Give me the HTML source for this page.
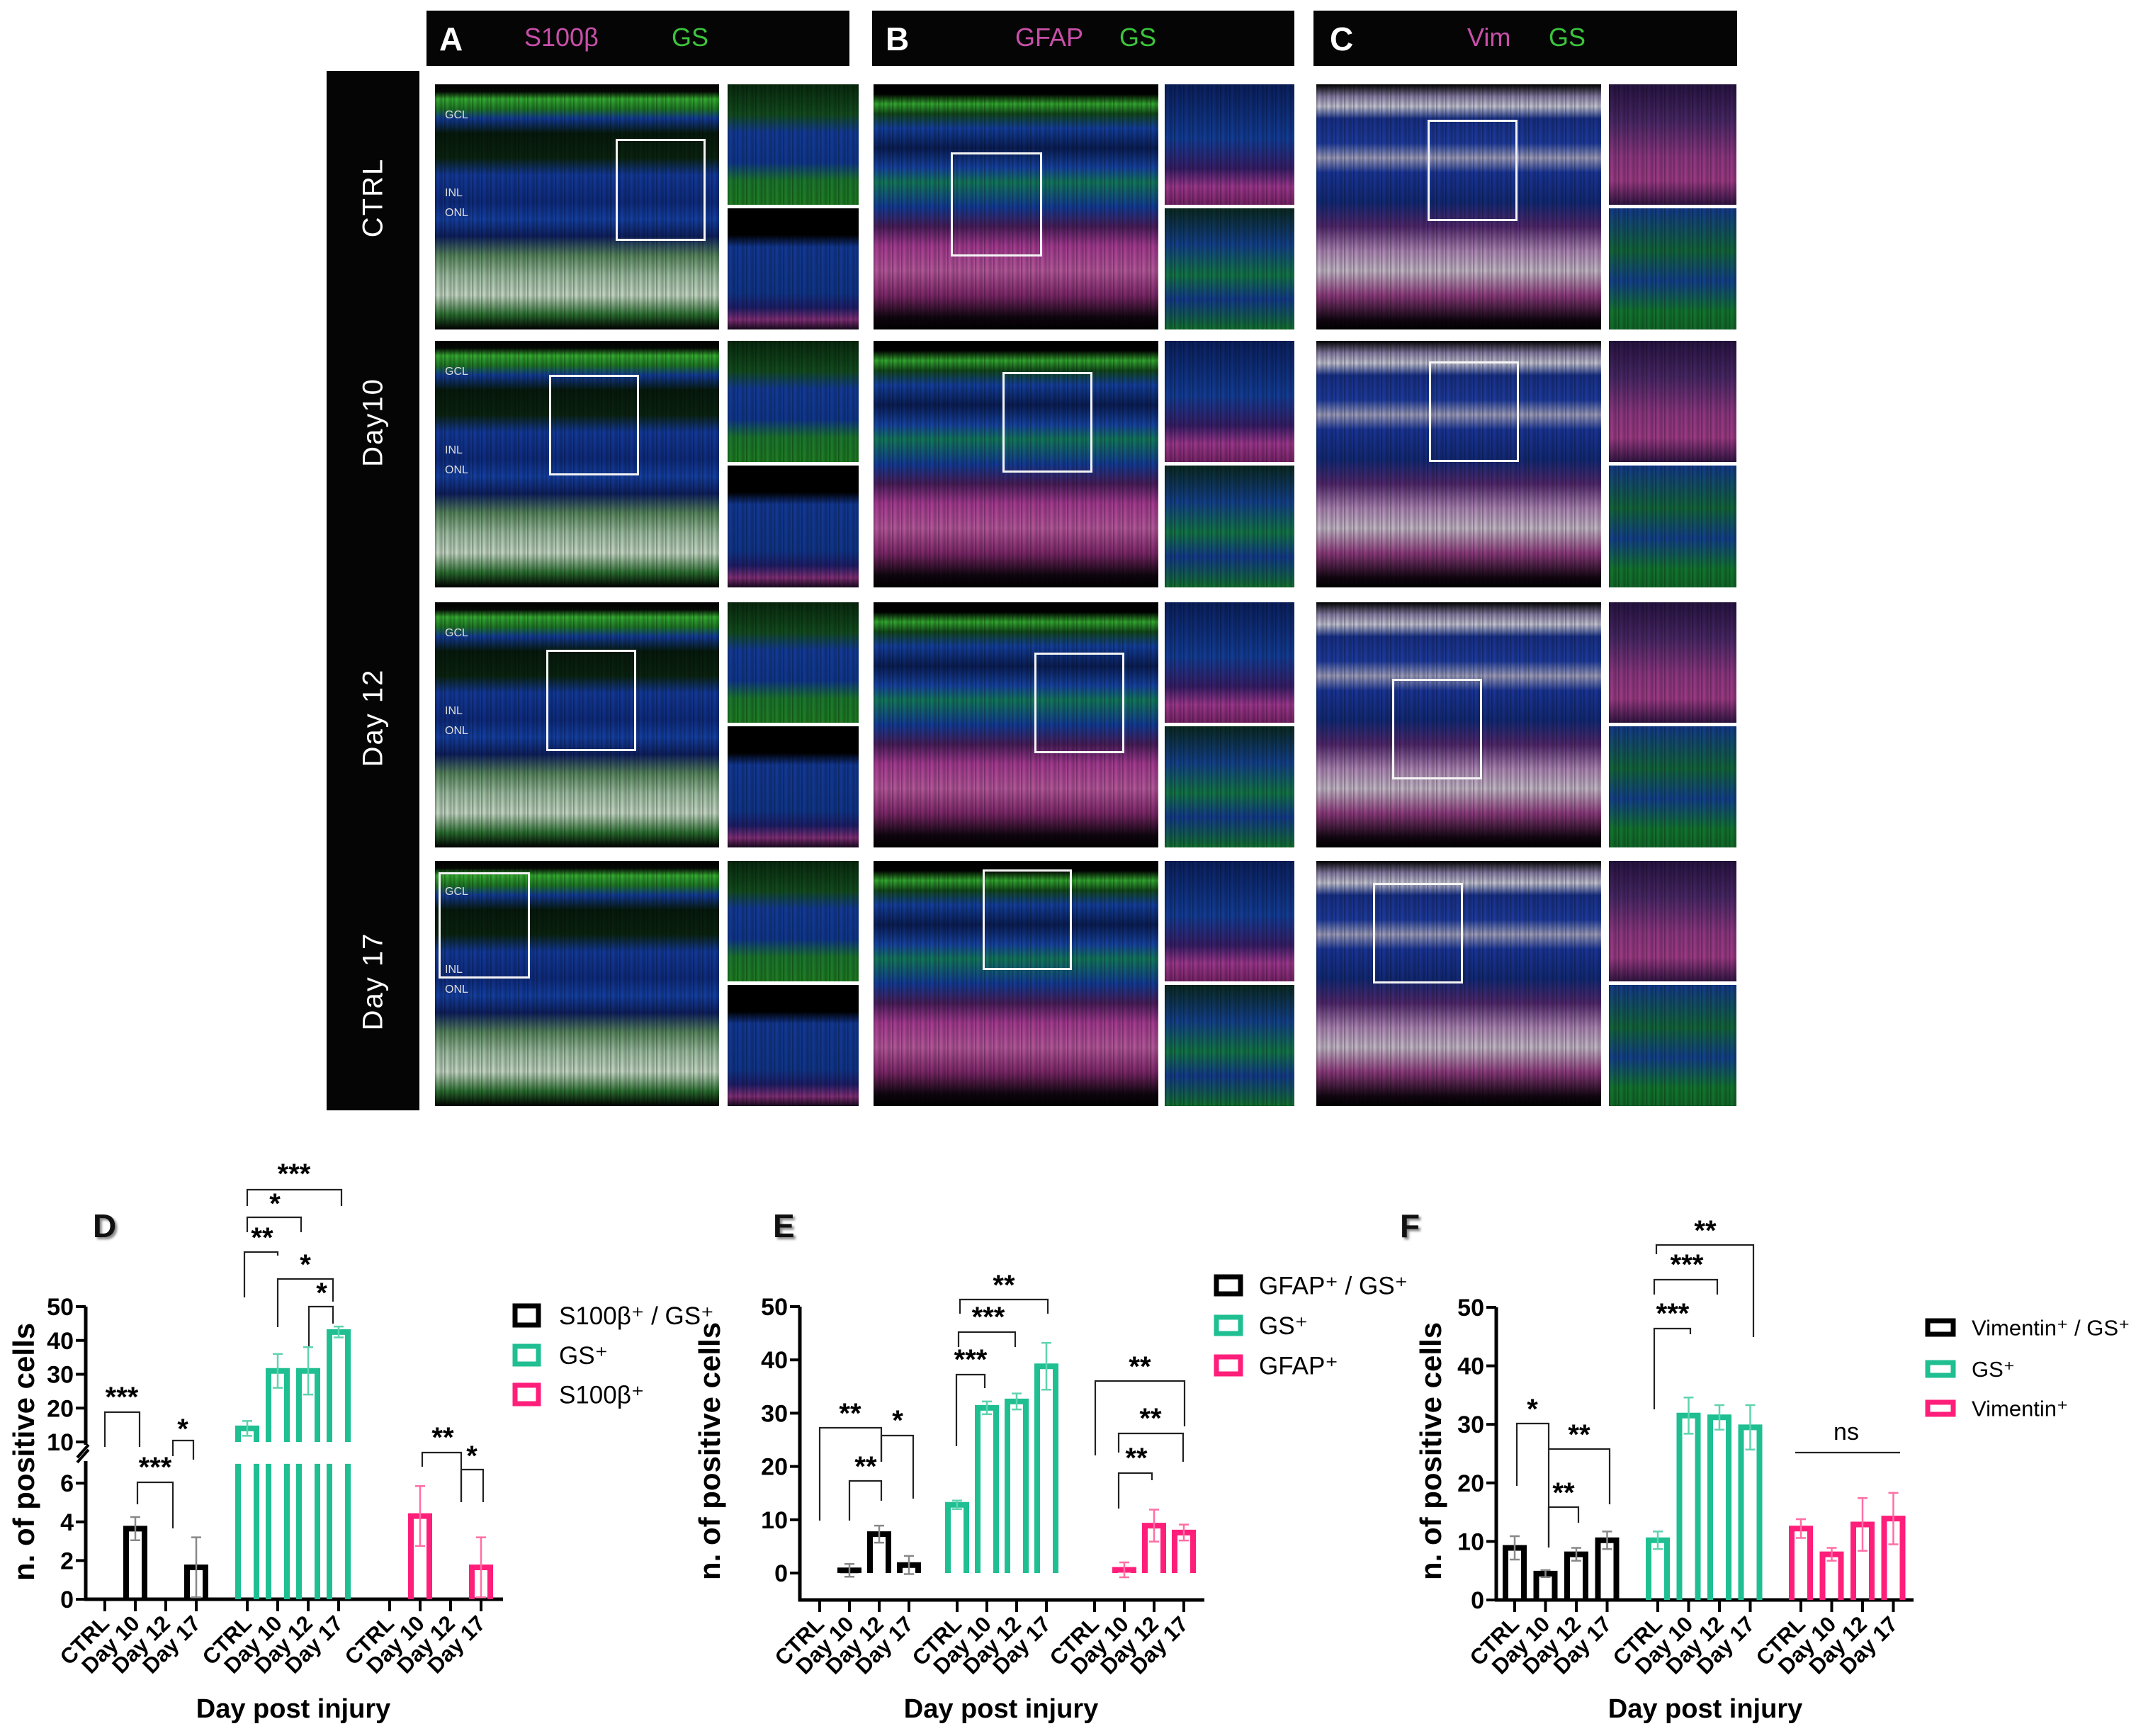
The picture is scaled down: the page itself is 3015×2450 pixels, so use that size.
<!DOCTYPE html>
<html><head><meta charset="utf-8">
<style>
html,body{margin:0;padding:0;background:#fff;}
#root{position:relative;width:3015px;height:2450px;overflow:hidden;background:#fff;font-family:"Liberation Sans",sans-serif;}
.blk{position:absolute;background:#050505;}
.hdr{position:absolute;color:#fff;font-size:36px;white-space:nowrap;}
.img{position:absolute;overflow:hidden;}
.img::after{content:"";position:absolute;inset:0;background:repeating-linear-gradient(90deg,rgba(0,0,0,0.35) 0px,rgba(0,0,0,0) 4px,rgba(0,0,0,0.25) 9px,rgba(0,0,0,0) 13px);}
.box{position:absolute;border:3px solid #f4f4f4;box-sizing:border-box;z-index:2;}
.rowlab{position:absolute;color:#fff;font-size:40px;letter-spacing:2px;transform:translate(-50%,-50%) rotate(-90deg);white-space:nowrap;}
.lay{position:absolute;color:#ddd;font-size:16px;z-index:2;}
svg text{font-family:"Liberation Sans",sans-serif;}
</style></head>
<body>
<div id="root">
<div class="blk" style="left:461px;top:100px;width:131px;height:1467px;"></div>
<div class="blk" style="left:602px;top:15px;width:597px;height:78px;"></div>
<div class="blk" style="left:1231px;top:15px;width:596px;height:78px;"></div>
<div class="blk" style="left:1854px;top:15px;width:598px;height:78px;"></div>
<div class="hdr" style="left:620px;top:28px;"><b style="font-size:46px">A</b><span style="position:absolute;left:120px;top:4px;color:#c84fa9">S100β</span><span style="position:absolute;left:328px;top:4px;color:#3cc43c">GS</span></div>
<div class="hdr" style="left:1250px;top:28px;"><b style="font-size:46px">B</b><span style="position:absolute;left:183px;top:4px;color:#c84fa9">GFAP</span><span style="position:absolute;left:330px;top:4px;color:#3cc43c">GS</span></div>
<div class="hdr" style="left:1877px;top:28px;"><b style="font-size:46px">C</b><span style="position:absolute;left:194px;top:4px;color:#c84fa9">Vim</span><span style="position:absolute;left:309px;top:4px;color:#3cc43c">GS</span></div>
<div class="rowlab" style="left:527px;top:279px;">CTRL</div>
<div class="rowlab" style="left:527px;top:596px;">Day10</div>
<div class="rowlab" style="left:527px;top:1013px;">Day 12</div>
<div class="rowlab" style="left:527px;top:1385px;">Day 17</div>
<div id="panels"></div>
<svg id="charts" width="3015" height="2450" style="position:absolute;left:0;top:0;"></svg>
</div>
<script>
// ---------- chart data ----------
const cats = ['CTRL','Day 10','Day 12','Day 17'];
const dBlack = [0, 3.65, 0, 1.65];
const dBlackErr = [0, 0.6, 0, 1.55];
const dGS = [14, 31, 31, 42.5];
const dGSErr = [2.2, 5, 7, 1.6];
const dRed = [0, 4.3, 0, 1.65];
const dRedErr = [0, 1.55, 0, 1.55];
const eBlack = [0, 0.5, 7.3, 1.5];
const eBlackErr = [0, 1.2, 1.6, 1.7];
const eGS = [12.8, 31, 32.2, 38.8];
const eGSErr = [0.8, 1.2, 1.5, 4.4];
const eRed = [0, 0.6, 8.9, 7.6];
const eRedErr = [0, 1.4, 3, 1.5];
const fBlack = [8.9, 4.5, 7.8, 10.2];
const fBlackErr = [2, 0.6, 1.1, 1.5];
const fGS = [10.2, 31.5, 31.2, 29.5];
const fGSErr = [1.5, 3.1, 2.1, 3.8];
const fRed = [12.2, 7.8, 12.9, 13.9];
const fRedErr = [1.6, 1.1, 4.5, 4.4];
const dTicksLow = [0, 2, 4, 6];
const dTicksHigh = [10, 20, 30, 40, 50];
const eTicks = [0, 10, 20, 30, 40, 50];
const fTicks = [0, 10, 20, 30, 40, 50];
const dLegend = ['S100β⁺ / GS⁺', 'GS⁺', 'S100β⁺'];
const eLegend = ['GFAP⁺ / GS⁺', 'GS⁺', 'GFAP⁺'];
const fLegend = ['Vimentin⁺ / GS⁺', 'GS⁺', 'Vimentin⁺'];

const COLORS = ['#000000', '#1fbf92', '#ff1f7a'];
const ERRC = ['#888888', '#5fd3b0', '#ff6fa5'];
const NS = 'http://www.w3.org/2000/svg';
const svg = document.getElementById('charts');
function mk(tag, attrs, parent) {
  const e = document.createElementNS(NS, tag);
  for (const k in attrs) e.setAttribute(k, attrs[k]);
  (parent || svg).appendChild(e);
  return e;
}
function txt(x, y, s, size, opt, parent) {
  const t = mk('text', Object.assign({x: x, y: y, 'font-size': size}, opt || {}), parent);
  t.textContent = s;
  return t;
}

// ---------- image panels ----------
const panels = document.getElementById('panels');
const colX = [[614, 401, 1027, 185], [1233, 402, 1644, 183], [1858, 402, 2271, 180]];
const rowY = [[119, 346], [481, 348], [850, 346], [1215, 346]];
const gradMain = [
 'linear-gradient(to bottom,#000 0%,#050a05 3%,#35b032 6%,#1f7a26 10%,#123c9a 14%,#061a0c 20%,#0a2410 30%,#133a9c 37%,#0e2c80 48%,#1440a4 55%,#0e2060 62%,#5a8a60 70%,#9ec0a2 78%,#c8dcc8 86%,#2a7030 94%,#000 100%)',
 'linear-gradient(to bottom,#000 0%,#000 4%,#33ac30 8%,#124a1a 12%,#1340a0 18%,#0a1e56 26%,#1644a4 34%,#137a5e 40%,#133c98 50%,#4a1e5c 58%,#a83c94 66%,#b8589e 76%,#80286c 86%,#100610 95%,#000 100%)',
 'linear-gradient(to bottom,#000 0%,#8a80a8 5%,#c8c8d8 9%,#18318a 14%,#1e3ca0 24%,#a0a0c0 30%,#1a369a 36%,#122a78 48%,#52286e 58%,#b088b8 68%,#c8bccc 76%,#903c80 86%,#120612 96%,#000 100%)'
];
const gradInsetTop = [
 'linear-gradient(to bottom,#082a0e 0%,#134e1f 25%,#133c9a 40%,#103890 65%,#1c7a2e 80%,#1f8024 100%)',
 'linear-gradient(to bottom,#0a2060 0%,#133e9a 45%,#381e6a 70%,#a03890 85%,#7a246a 100%)',
 'linear-gradient(to bottom,#281444 0%,#4a2868 30%,#903884 60%,#a03c88 80%,#341646 100%)'
];
const gradInsetBot = [
 'linear-gradient(to bottom,#000 0%,#000 22%,#133a98 32%,#10368c 70%,#1e1e6a 82%,#84307a 92%,#180a20 100%)',
 'linear-gradient(to bottom,#0a2a22 0%,#13428e 30%,#137848 55%,#133c8e 75%,#137430 100%)',
 'linear-gradient(to bottom,#133c8e 0%,#13683c 35%,#13428e 60%,#137830 85%,#126c2a 100%)'
];
const boxes = [
 [[869,196,127,144],[775,529,127,142],[771,917,127,143],[619,1231,129,150]],
 [[1342,215,129,147],[1415,525,127,142],[1460,921,127,142],[1387,1227,126,142]],
 [[2015,169,127,143],[2017,510,127,142],[1965,958,127,142],[1938,1246,127,142]]
];
for (let c = 0; c < 3; c++) {
  for (let r = 0; r < 4; r++) {
    const [mx, mw, ix, iw] = colX[c];
    const [y, h] = rowY[r];
    const m = document.createElement('div');
    m.className = 'img';
    
    
    m.style.cssText = `left:${mx}px;top:${y}px;width:${mw}px;height:${h}px;background:${gradMain[c]};`;
    panels.appendChild(m);
    const hh = Math.floor((h - 5) / 2);
    const t = document.createElement('div');
    t.className = 'img';
    
    
    t.style.cssText = `left:${ix}px;top:${y}px;width:${iw}px;height:${hh}px;background:${gradInsetTop[c]};`;
    panels.appendChild(t);
    const b = document.createElement('div');
    b.className = 'img';
    
    
    b.style.cssText = `left:${ix}px;top:${y + hh + 5}px;width:${iw}px;height:${h - hh - 5}px;background:${gradInsetBot[c]};`;
    panels.appendChild(b);
    const bx = boxes[c][r];
    const bo = document.createElement('div');
    bo.className = 'box';
    
    
    bo.style.cssText = `left:${bx[0]}px;top:${bx[1]}px;width:${bx[2]}px;height:${bx[3]}px;`;
    panels.appendChild(bo);
    if (c === 0) {
      const labs = [['GCL', 0.1], ['INL', 0.42], ['ONL', 0.5]];
      labs.forEach(l => {
        const d = document.createElement('div');
        d.className = 'lay';
        
        
        d.style.cssText = `left:${mx + 14}px;top:${y + h * l[1]}px;`;
        d.textContent = l[0];
        panels.appendChild(d);
      });
    }
  }
}

// ---------- charts ----------
function drawChart(cfg) {
  const g = mk('g', {});
  
  
  const tx = (gi, i) => cfg.x0 + gi * cfg.gStep + i * cfg.cStep;
  const L = txt(cfg.letterX, cfg.letterY, cfg.letter, 46, {'font-weight': 'bold', fill: '#111', style: 'text-shadow:3px 3px 3px #888'}, g);
  
  
  const ya = mk('path', {d: cfg.yAxisPath, stroke: '#000', 'stroke-width': 5, fill: 'none'}, g);
  
  
  const xa = mk('line', {x1: cfg.axX - 2, x2: cfg.axEnd, y1: cfg.xAxisY, y2: cfg.xAxisY, stroke: '#000', 'stroke-width': 5}, g);
  
  
  cfg.ticks.forEach(v => {
    const y = cfg.y(v);
    mk('line', {x1: cfg.axX - 14, x2: cfg.axX, y1: y, y2: y, stroke: '#000', 'stroke-width': 4}, g);
    const t = txt(cfg.axX - 17, y + 12, String(v), 34, {'font-weight': 'bold', 'text-anchor': 'end', 'font-family': '"Liberation Sans Narrow","Liberation Sans",sans-serif'}, g);
    
    
  });
  const yt = txt(0, 0, 'n. of positive cells', 42, {'font-weight': 'bold', 'text-anchor': 'middle', transform: `translate(${cfg.ytX},${cfg.ytY}) rotate(-90)`}, g);
  
  
  const xt = txt(cfg.xtX, cfg.xtY, 'Day post injury', 38, {'font-weight': 'bold', 'text-anchor': 'middle', 'font-family': '"Liberation Sans Narrow","Liberation Sans",sans-serif'}, g);
  
  
  const series = [cfg.s0, cfg.s1, cfg.s2];
  const errs = [cfg.e0, cfg.e1, cfg.e2];
  for (let gi = 0; gi < 3; gi++) {
    for (let i = 0; i < 4; i++) {
      const x = tx(gi, i);
      mk('line', {x1: x, x2: x, y1: cfg.xAxisY, y2: cfg.xAxisY + 17, stroke: '#000', 'stroke-width': 4}, g);
      const lab = txt(0, 0, cats[i], 31, {'font-weight': 'bold', 'text-anchor': 'end', transform: `translate(${x + 8},${cfg.xAxisY + 36}) rotate(-45)`}, g);
      
      
      const v = series[gi][i];
      if (!v) continue;
      const e = errs[gi][i];
      const hw = 13;
      const y0 = cfg.y(0), yv = cfg.y(v);
      let d;
      if (cfg.broken && v > 10) {
        const yb = cfg.y(7), yc = cfg.y(10);
        d = `M${x - hw},${y0}L${x - hw},${yb}M${x + hw},${y0}L${x + hw},${yb}M${x - hw},${yc}L${x - hw},${yv}L${x + hw},${yv}L${x + hw},${yc}`;
      } else {
        d = `M${x - hw},${y0}L${x - hw},${yv}L${x + hw},${yv}L${x + hw},${y0}`;
      }
      const bar = mk('path', {d: d, stroke: COLORS[gi], 'stroke-width': 8, fill: 'none'}, g);
      
      
      if (e) {
        const ylo = cfg.y(Math.max(v - e, cfg.broken && v > 10 ? 10 : -1)), yhi = cfg.y(v + e);
        const eb = mk('path', {d: `M${x},${ylo}L${x},${yhi}M${x - 7},${yhi}L${x + 7},${yhi}M${x - 7},${ylo}L${x + 7},${ylo}`, stroke: ERRC[gi], 'stroke-width': 2.5, fill: 'none'}, g);
        
        
      }
    }
  }
  cfg.brackets.forEach(b => {
    const p = mk('path', {d: `M${b[0]},${b[3]}L${b[0]},${b[2]}L${b[1]},${b[2]}L${b[1]},${b[4]}`, stroke: '#222', 'stroke-width': 2.2, fill: 'none'}, g);
    
    
    const ns = b[5] === 'ns';
    const t = txt(b[6], b[7], b[5], ns ? 34 : 40, {'font-weight': ns ? 'normal' : 'bold', 'text-anchor': 'middle', 'font-family': ns ? '"Liberation Sans Narrow","Liberation Sans",sans-serif' : '"Liberation Sans",sans-serif'}, g);
    
    
  });
  const labels = cfg.legend;
  for (let k = 0; k < 3; k++) {
    const [bx, by, bw, bh] = cfg.legBoxes[k];
    const r = mk('rect', {x: bx, y: by, width: bw, height: bh, stroke: COLORS[k], 'stroke-width': 7, fill: 'none'}, g);
    
    
    const t = txt(cfg.legTextX, by + bh / 2 + cfg.legFont * 0.36, labels[k], cfg.legFont, {'font-family': '"Liberation Sans Narrow","Liberation Sans",sans-serif'}, g);
    
    
  }
  if (cfg.broken) {
    mk('rect', {x: cfg.axX - 5, y: cfg.y(10) + 4, width: 10, height: cfg.y(7) - cfg.y(10) - 8, fill: '#fff'}, g);
    mk('path', {d: `M${cfg.axX - 12},${cfg.y(10) + 22}L${cfg.axX + 4},${cfg.y(10) + 4}M${cfg.axX - 12},${cfg.y(7) - 2}L${cfg.axX + 4},${cfg.y(7) - 20}`, stroke: '#000', 'stroke-width': 4}, g);
  }
}

const dY = v => v <= 7 ? 2257 - v * 27.3 : (v < 10 ? 2066 - (v - 7) * 10 : 2035 - (v - 10) * 4.775);
drawChart({
  name: 'chart-d', letter: 'D', letterX: 131, letterY: 1746, broken: true,
  x0: 148, gStep: 201, cStep: 43, y: dY, axX: 121, axEnd: 710, xAxisY: 2257,
  yAxisPath: `M121,${dY(50)}L121,2259`,
  ticks: dTicksLow.concat(dTicksHigh), ytX: 48, ytY: 2049, xtX: 414, xtY: 2424,
  s0: dBlack, s1: dGS, s2: dRed, e0: dBlackErr, e1: dGSErr, e2: dRedErr,
  legend: dLegend, legTextX: 789, legFont: 35,
  legBoxes: [[727, 1843, 33, 27], [727, 1900, 33, 25], [727, 1955, 33, 26]],
  brackets: [
    [148, 197, 1993, 2042, 2042, '***', 172, 1985],
    [194, 244, 2092, 2123, 2157, '***', 219, 2084],
    [244, 273, 2033, 2055, 2060, '*', 258, 2030],
    [349, 482, 1679, 1702, 1702, '***', 415, 1670],
    [349, 425, 1718, 1739, 1739, '*', 388, 1712],
    [345, 392, 1767, 1831, 1772, '**', 370, 1760],
    [392, 470, 1805, 1873, 1837, '*', 431, 1798],
    [436, 470, 1844, 1900, 1868, '*', 454, 1838],
    [596, 651, 2050, 2070, 2120, '**', 625, 2042],
    [651, 682, 2074, 2120, 2120, '*', 666, 2068]
  ]
});
const eY = v => 2220 - v * 7.52;
drawChart({
  name: 'chart-e', letter: 'E', letterX: 1091, letterY: 1746,
  x0: 1157, gStep: 194, cStep: 42, y: eY, axX: 1129, axEnd: 1700, xAxisY: 2258,
  yAxisPath: `M1129,${eY(50)}L1129,2260`,
  ticks: eTicks, ytX: 1016, ytY: 2048, xtX: 1413, xtY: 2424,
  s0: eBlack, s1: eGS, s2: eRed, e0: eBlackErr, e1: eGSErr, e2: eRedErr,
  legend: eLegend, legTextX: 1777, legFont: 35,
  legBoxes: [[1717, 1802, 34, 24], [1717, 1859, 34, 23], [1717, 1915, 34, 24]],
  brackets: [
    [1157, 1244, 2015, 2146, 2063, '**', 1200, 2008],
    [1244, 1289, 2026, 2063, 2115, '*', 1267, 2018],
    [1199, 1244, 2090, 2146, 2118, '**', 1222, 2083],
    [1355, 1479, 1834, 1854, 1854, '**', 1417, 1827],
    [1353, 1433, 1880, 1901, 1901, '***', 1395, 1872],
    [1350, 1390, 1940, 2041, 1959, '***', 1370, 1932],
    [1546, 1672, 1949, 2054, 2013, '**', 1609, 1942],
    [1579, 1670, 2023, 2050, 2063, '**', 1624, 2015],
    [1579, 1626, 2079, 2129, 2089, '**', 1604, 2071]
  ]
});
const fY = v => 2258 - v * 8.26;
drawChart({
  name: 'chart-f', letter: 'F', letterX: 1976, letterY: 1746,
  x0: 2138, gStep: 202, cStep: 43.5, y: fY, axX: 2112, axEnd: 2701, xAxisY: 2258,
  yAxisPath: `M2112,${fY(50)}L2112,2260`,
  ticks: fTicks, ytX: 2034, ytY: 2048, xtX: 2407, xtY: 2424,
  s0: fBlack, s1: fGS, s2: fRed, e0: fBlackErr, e1: fGSErr, e2: fRedErr,
  legend: fLegend, legTextX: 2783, legFont: 31,
  legBoxes: [[2721, 1864, 36, 19], [2721, 1923, 36, 18], [2721, 1979, 36, 17]],
  brackets: [
    [2141, 2186, 2009, 2097, 2184, '*', 2163, 2002],
    [2186, 2272, 2045, 2045, 2123, '**', 2229, 2038],
    [2186, 2228, 2127, 2184, 2149, '**', 2207, 2120],
    [2338, 2475, 1757, 1770, 1887, '**', 2407, 1750],
    [2335, 2424, 1806, 1827, 1827, '***', 2381, 1798],
    [2335, 2386, 1875, 1989, 1883, '***', 2361, 1867],
    [2534, 2682, 2050, 2050, 2050, 'ns', 2606, 2032]
  ]
});
</script>
</body></html>
